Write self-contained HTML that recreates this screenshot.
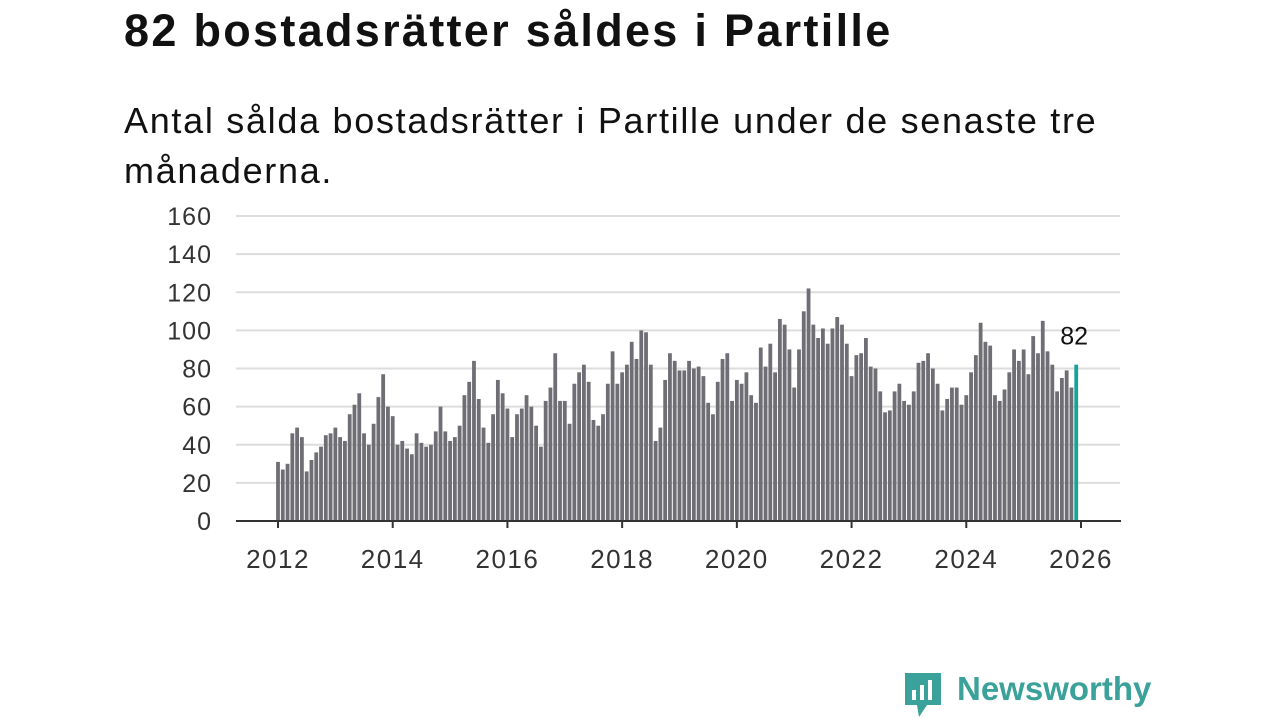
<!DOCTYPE html>
<html><head><meta charset="utf-8"><style>
body{margin:0;width:1280px;height:720px;background:#fff;font-family:"Liberation Sans",sans-serif;overflow:hidden;position:relative}
h1{position:absolute;left:124px;top:5px;margin:0;font-size:45px;letter-spacing:2.3px;font-weight:bold;color:#111;white-space:nowrap}
.sub{position:absolute;left:124px;top:96px;width:1040px;font-size:36px;letter-spacing:1.7px;line-height:50px;color:#111}
svg{position:absolute;left:0;top:0}
.logo{position:absolute;left:957px;top:670px;font-size:33px;font-weight:bold;color:#3aa29a}
</style></head><body>
<h1>82 bostadsrätter såldes i Partille</h1>
<div class="sub">Antal sålda bostadsrätter i Partille under de senaste tre månaderna.</div>
<svg id="chart" width="1280" height="720"></svg>
<svg width="1280" height="720"><path d="M905 673 h36 v32 h-14 l-8 12 l-2 -12 h-12 z" fill="#3aa29a"/><rect x="912" y="690" width="4" height="10" fill="#fff"/><rect x="920" y="685" width="4" height="15" fill="#fff"/><rect x="928" y="680" width="4" height="20" fill="#fff"/></svg>
<div class="logo">Newsworthy</div>
<script>
const yTicks=[0,20,40,60,80,100,120,140,160];
const xTickLabels=["2012","2014","2016","2018","2020","2022","2024","2026"];
const values=[
31,27,30,46,49,44,26,32,36,39,45,46,
49,44,42,56,61,67,46,40,51,65,77,60,
55,40,42,38,35,46,41,39,40,47,60,47,
42,44,50,66,73,84,64,49,41,56,74,67,
59,44,56,59,66,60,50,39,63,70,88,63,
63,51,72,78,82,73,53,50,56,72,89,72,
78,82,94,85,100,99,82,42,49,74,88,84,
79,79,84,80,81,76,62,56,73,85,88,63,
74,72,78,66,62,91,81,93,78,106,103,90,
70,90,110,122,103,96,101,93,101,107,103,93,
76,87,88,96,81,80,68,57,58,68,72,63,
61,68,83,84,88,80,72,58,64,70,70,61,
66,78,87,104,94,92,66,63,69,78,90,84,
90,77,97,88,105,89,82,68,75,79,70,82];
const NS="http://www.w3.org/2000/svg",svg=document.getElementById("chart");
const y=v=>521-v*(305/160);
const x=i=>278+i*(803/168);
function mk(t,a){const e=document.createElementNS(NS,t);for(const k in a)e.setAttribute(k,a[k]);svg.appendChild(e);return e;}
yTicks.forEach(v=>{
 const l=mk("line",{x1:236,x2:1120,y1:y(v),y2:y(v),stroke:"#ddd","stroke-width":2});
 
 
 const t=mk("text",{x:212,y:y(v)+9,"text-anchor":"end","font-size":25,"letter-spacing":1,fill:"#333","font-family":"Liberation Sans"});
 t.textContent=v;
 
 
});
values.forEach((v,i)=>{
 const last=i===values.length-1;
 const r=mk("rect",{x:x(i)-1.9,y:y(v),width:3.8,height:521-y(v),fill:last?"#17a39a":"#6f6e74"});
 
 
 if(last){const t=mk("text",{x:x(i)-16,y:y(v)-20,"font-size":25,fill:"#111","font-family":"Liberation Sans"});t.textContent=v;
 
 }
});
const ax=mk("line",{x1:236,x2:1121,y1:521,y2:521,stroke:"#333","stroke-width":2});


xTickLabels.forEach((s,k)=>{
 const xi=x(k*24);
 const tk=mk("line",{x1:xi,x2:xi,y1:521,y2:528,stroke:"#333","stroke-width":2});
 
 
 const t=mk("text",{x:xi,y:568,"text-anchor":"middle","font-size":26,"letter-spacing":1.5,fill:"#333","font-family":"Liberation Sans"});
 t.textContent=s;
 
 
});
</script>
</body></html>
